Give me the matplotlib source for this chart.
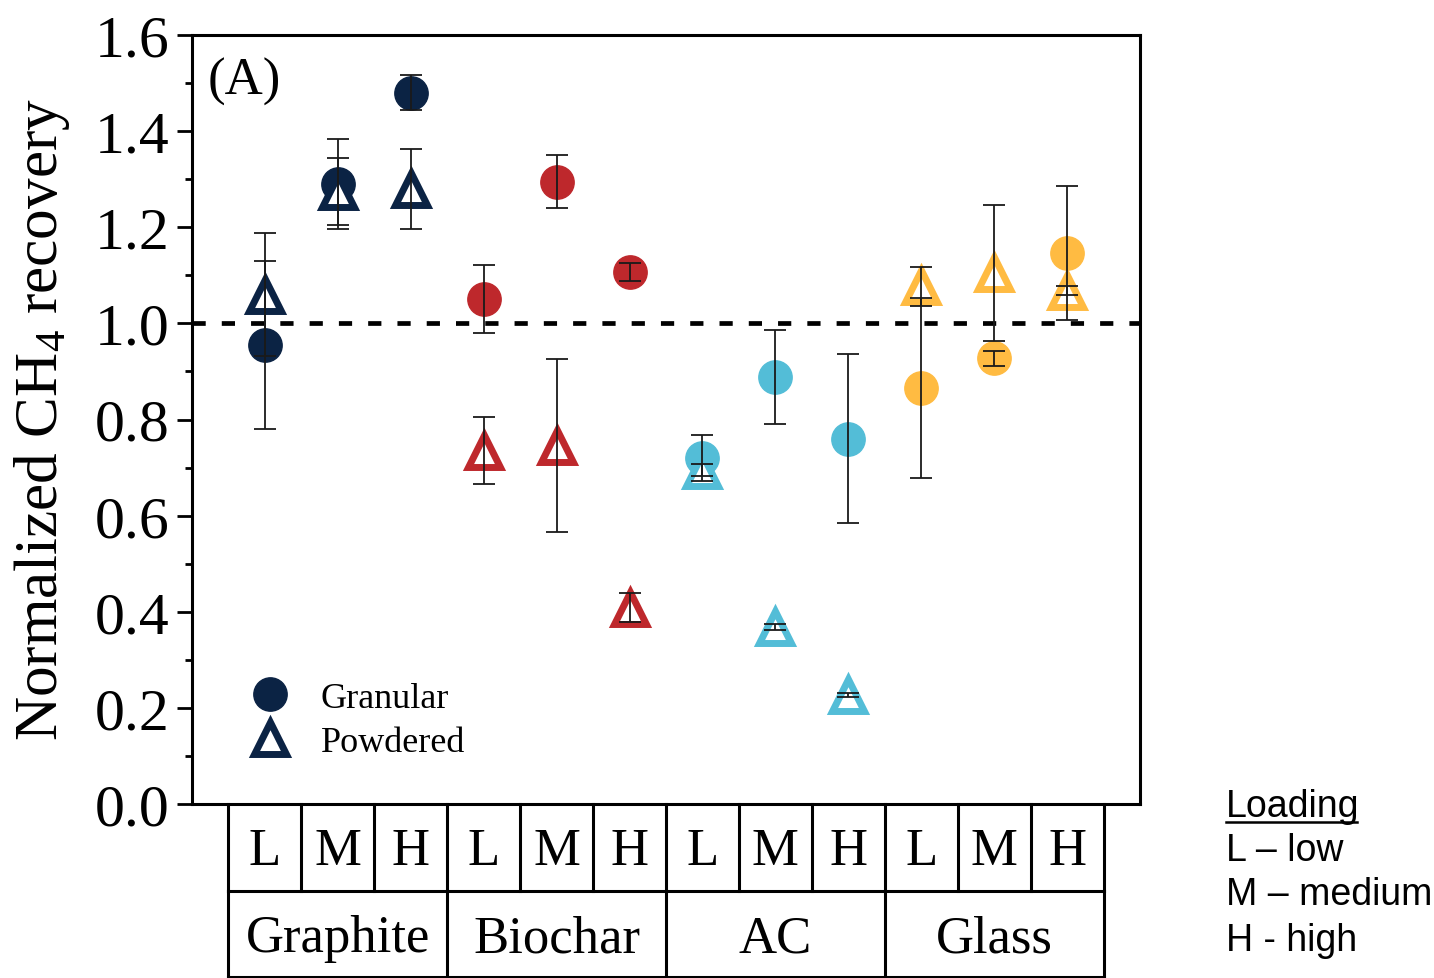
import matplotlib
matplotlib.use("Agg")
import matplotlib.pyplot as plt
from matplotlib.lines import Line2D
from matplotlib.ticker import MultipleLocator
import matplotlib.transforms as mtransforms

plt.rcParams['font.family'] = ['Liberation Serif', 'DejaVu Serif']
plt.rcParams['mathtext.fontset'] = 'custom'
plt.rcParams['mathtext.rm'] = 'Liberation Serif'
plt.rcParams['mathtext.it'] = 'Liberation Serif:italic'

# Loading levels and materials
loadings = ["L", "M", "H"] * 4
materials = ["Graphite", "Biochar", "AC", "Glass"]
material_colors = ["#0B2344", "#BE282C", "#53BDD7", "#FFBB42"]

# Normalized CH4 recovery (mean and error) for each material/loading
granular = [0.955, 1.290, 1.480, 1.050, 1.295, 1.107, 0.720, 0.888, 0.760, 0.865, 0.927, 1.146]
granular_err = [0.175, 0.093, 0.037, 0.071, 0.055, 0.018, 0.047, 0.098, 0.176, 0.187, 0.015, 0.140]
powdered = [1.060, 1.275, 1.280, 0.735, 0.745, 0.408, 0.695, 0.368, 0.226, 1.077, 1.105, 1.068]
powdered_err = [0.128, 0.070, 0.083, 0.070, 0.180, 0.030, 0.012, 0.006, 0.004, 0.040, 0.142, 0.010]

W, H = 1434, 979
fig = plt.figure(figsize=(W / 100, H / 100), dpi=100)
ax = fig.add_axes([192 / W, 1 - 805 / H, (1140 - 192) / W, (805 - 36) / H])

xs = list(range(1, len(loadings) + 1))
colors = [material_colors[(i - 1) // 3] for i in xs]

circle_ms = 24
tri_ms = 22.5
tri_mew = 5.0

for x, y, c in zip(xs, granular, colors):
    ax.plot([x], [y], marker='o', ms=circle_ms, color=c, mec=c, ls='none', zorder=3)
for x, y, c in zip(xs, powdered, colors):
    ax.plot([x], [y], marker='^', ms=tri_ms, mfc='white', mec=c, mew=tri_mew,
            ls='none', zorder=4)

err_kw = dict(fmt='none', ecolor='#1a1a1a', elinewidth=1.3, capsize=8, capthick=1.3, zorder=6)
ax.errorbar(xs, granular, yerr=granular_err, **err_kw)
ax.errorbar(xs, powdered, yerr=powdered_err, **err_kw)

ax.axhline(1.0, color='black', lw=3.4, dashes=(2.8, 3.4), zorder=2)

ax.set_xlim(0, 13)
ax.set_ylim(0, 1.6)
ax.set_xticks([])
ax.yaxis.set_major_locator(MultipleLocator(0.2))
ax.yaxis.set_minor_locator(MultipleLocator(0.1))
ax.yaxis.set_major_formatter(plt.FuncFormatter(lambda v, p: f"{v:.1f}"))
ax.tick_params(axis='y', which='major', direction='out', length=11, width=2, labelsize=43, pad=5)
ax.tick_params(axis='y', which='minor', direction='out', length=5, width=2)
for s in ax.spines.values():
    s.set_linewidth(2.2)

ax.text(0.017, 0.94, "(A)", transform=ax.transAxes, fontsize=38, ha='left', va='center')

fig.text(42 / W, 1 - 420 / H, "Normalized CH$_4$ recovery", rotation=90,
         ha='center', va='center', fontsize=44)

# Legend
handles = [
    Line2D([], [], marker='o', ms=circle_ms, color=material_colors[0], ls='none'),
    Line2D([], [], marker='^', ms=tri_ms, mfc='white', mec=material_colors[0],
           mew=tri_mew, ls='none'),
]
ax.legend(handles, ["Granular", "Powdered"], loc='center left',
          bbox_to_anchor=((252 - 192) / 948, (805 - 721) / 769), frameon=False,
          fontsize=26, handlelength=1.0, handletextpad=0.9, labelspacing=0.3,
          borderpad=0, borderaxespad=0)

# Category table beneath the axes (x in data units, y in axes fraction)
trans = mtransforms.blended_transform_factory(ax.transData, ax.transAxes)
row1 = -0.1131
row2 = -0.2245
lw_tab = 2.2
line_kw = dict(color='black', lw=lw_tab, transform=trans, clip_on=False, solid_capstyle='projecting')
for i in range(len(loadings) + 1):
    ax.plot([0.5 + i, 0.5 + i], [0, row1], **line_kw)
for g in range(len(materials) + 1):
    ax.plot([0.5 + 3 * g, 0.5 + 3 * g], [row1, row2], **line_kw)
ax.plot([0.5, 12.5], [row1, row1], **line_kw)
ax.plot([0.5, 12.5], [row2, row2], **line_kw)

for x, lab in zip(xs, loadings):
    ax.text(x, -0.0615, lab, transform=trans, ha='center', va='center', fontsize=38)
for g, name in enumerate(materials):
    ax.text(2 + 3 * g, -0.1745, name, transform=trans, ha='center', va='center', fontsize=38)

# Loading key
key_kw = dict(fontsize=27, family=['Liberation Sans', 'DejaVu Sans'], ha='left', va='center')
fig.text(1226 / W, 1 - 807 / H, "Loading", **key_kw)
fig.add_artist(Line2D([1226 / W, 1357 / W], [1 - 823 / H, 1 - 823 / H],
                      color='black', lw=1.8, transform=fig.transFigure))
fig.text(1226 / W, 1 - 851 / H, "L \u2013 low", **key_kw)
fig.text(1226 / W, 1 - 895 / H, "M \u2013 medium", **key_kw)
fig.text(1226 / W, 1 - 941 / H, "H - high", **key_kw)

fig.savefig("out.png", dpi=100)
